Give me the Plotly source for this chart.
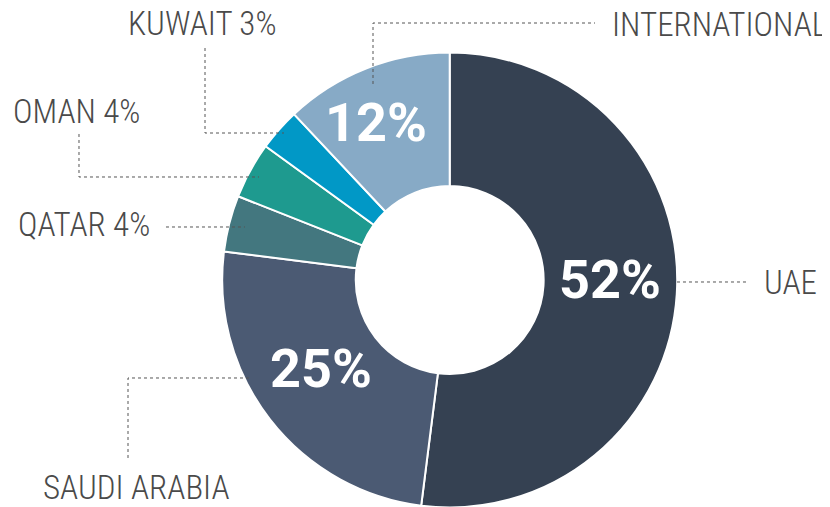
import plotly.graph_objects as go

# ---- data ----
categories = ["UAE", "SAUDI ARABIA", "QATAR", "OMAN", "KUWAIT", "INTERNATIONAL"]
shares = [52, 25, 4, 4, 3, 12]
colors = ["#354152", "#4b5a73", "#43777f", "#1e9a8f", "#0198c6", "#87aac6"]
show_inside = [True, True, False, False, False, True]
outside_labels = ["UAE", "SAUDI ARABIA", "QATAR 4%", "OMAN 4%", "KUWAIT 3%", "INTERNATIONAL"]

# ---- layout constants (pixels in the page; page body has an 8px margin) ----
W, H = 830, 507
OFF = 8
CX, CY, R = 449.7, 280, 227.5
HOLE = 0.413

def px(x):
    return (x - OFF) / W

def py(y):
    return 1 - (y - OFF) / H

# outside label placement: (left x, center y)
label_pos = {
    "UAE": (763, 282),
    "SAUDI ARABIA": (42, 487),
    "QATAR": (17, 225),
    "OMAN": (12, 112),
    "KUWAIT": (127, 23),
    "INTERNATIONAL": (611, 24),
}
# inside percentage label placement: (center x, center y)
inside_pos = {
    "UAE": (610, 279),
    "SAUDI ARABIA": (321, 368),
    "INTERNATIONAL": (376, 122),
}
# leader line polylines
leaders = {
    "UAE": [(677, 282), (748, 282)],
    "SAUDI ARABIA": [(128, 458), (128, 378), (252, 378)],
    "QATAR": [(166, 227), (245, 227)],
    "OMAN": [(79, 134), (79, 177), (259, 177)],
    "KUWAIT": [(205, 48), (205, 133), (284, 133)],
    "INTERNATIONAL": [(373, 84), (373, 23), (595, 23)],
}

fig = go.Figure(go.Pie(
    labels=categories,
    values=shares,
    textinfo="none",
    marker=dict(colors=colors, line=dict(color="white", width=2)),
    hole=HOLE,
    sort=False,
    direction="clockwise",
    rotation=0,
    domain=dict(x=[px(CX - R), px(CX + R)], y=[py(CY + R), py(CY - R)]),
    showlegend=False,
    hoverinfo="label+value",
))

annotations = []
for cat, lab in zip(categories, outside_labels):
    x, y = label_pos[cat]
    annotations.append(dict(
        x=px(x), y=py(y), xref="paper", yref="paper",
        text=lab, showarrow=False, xanchor="left", yanchor="middle",
        font=dict(family="Roboto Condensed", size=33, color="#4a4a4a", weight=300),
        borderpad=0,
    ))

for cat, val, show in zip(categories, shares, show_inside):
    if not show:
        continue
    x, y = inside_pos[cat]
    annotations.append(dict(
        x=px(x), y=py(y), xref="paper", yref="paper",
        text=f"{val}%", showarrow=False, xanchor="center", yanchor="middle",
        font=dict(family="Roboto", size=54, color="white", weight="bold"),
        borderpad=0,
    ))

shapes = []
for cat in categories:
    pts = leaders[cat]
    path = "M " + " L ".join(f"{px(x):.5f},{py(y):.5f}" for x, y in pts)
    shapes.append(dict(type="path", path=path, xref="paper", yref="paper",
                       line=dict(color="#555555", width=1, dash="dot")))

fig.update_layout(
    width=W, height=H,
    margin=dict(l=0, r=0, t=0, b=0),
    paper_bgcolor="white",
    plot_bgcolor="white",
    annotations=annotations,
    shapes=shapes,
)

fig.write_html("out.html")
